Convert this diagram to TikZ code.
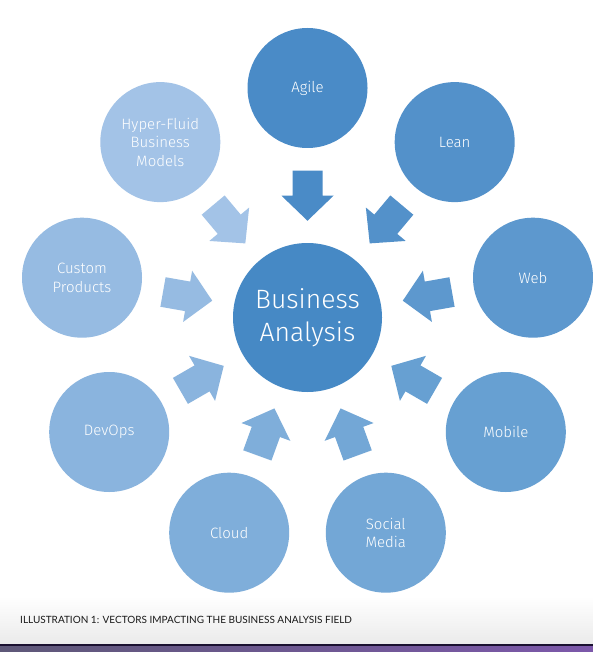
\documentclass[tikz,border=0pt]{standalone}
\usepackage{fontspec}
\newfontfamily\lightfont{Fira Sans Light}
\newfontfamily\capfont{Lato}
\usetikzlibrary{calc}
\definecolor{cHub}{HTML}{4689C5}
\definecolor{cAgile}{HTML}{4A8BC7}
\definecolor{cLean}{HTML}{5391CA}
\definecolor{cWeb}{HTML}{5D98CE}
\definecolor{cMobile}{HTML}{67A0D2}
\definecolor{cSocial}{HTML}{73A7D6}
\definecolor{cCloud}{HTML}{7FAEDA}
\definecolor{cDevops}{HTML}{8AB4DE}
\definecolor{cCustom}{HTML}{96BBE2}
\definecolor{cHyper}{HTML}{A3C3E7}
\definecolor{barDark}{HTML}{1A1030}
\definecolor{barLeft}{HTML}{5E5878}
\definecolor{barRight}{HTML}{7C58AA}
\tikzset{
  bubble/.style={circle, inner sep=0pt, minimum size=120pt, text=white, align=center,
    font=\lightfont\fontsize{15}{18.5}\selectfont},
  hub/.style={bubble, minimum size=149pt, font=\lightfont\fontsize{26.5}{33}\selectfont}
}
\newcommand\blockarrow[3]{%
  \fill[#3] let \p1=($(#2)-(#1)$), \n1={atan2(\y1,\x1)} in
    ($(#1)+(\n1:146.75pt)+(\n1+90:15pt)$) --
    ($(#1)+(\n1:121.75pt)+(\n1+90:15pt)$) --
    ($(#1)+(\n1:121.75pt)+(\n1+90:26pt)$) --
    ($(#1)+(\n1:96.75pt)$) --
    ($(#1)+(\n1:121.75pt)+(\n1-90:26pt)$) --
    ($(#1)+(\n1:121.75pt)+(\n1-90:15pt)$) --
    ($(#1)+(\n1:146.75pt)+(\n1-90:15pt)$) -- cycle;}
\begin{document}
\begin{tikzpicture}[x=1pt, y=-1pt]
\useasboundingbox (0,0) rectangle (593,652);
\fill[white] (0,0) rectangle (593,652);
\shade[top color=white, bottom color=black!8] (0,596) rectangle (593,643.5);
\fill[barDark] (0,643.5) rectangle (593,646.5);
\shade[left color=barLeft, right color=barRight] (0,646.5) rectangle (593,652);

\node[hub, fill=cHub] (hub) at (307.5,317.5) {Business\\Analysis};
\node[bubble, fill=cAgile] (agile) at (307.5,88) {Agile};
\node[bubble, fill=cLean] (lean) at (454.7,142.1) {Lean};
\node[bubble, fill=cWeb] (web) at (533,277.7) {Web};
\node[bubble, fill=cMobile] (mobile) at (505.8,432) {Mobile};
\node[bubble, fill=cSocial] (social) at (385.8,532.7) {Social\\Media};
\node[bubble, fill=cCloud] (cloud) at (229.2,532.7) {Cloud};
\node[bubble, fill=cDevops] (devops) at (109.2,432) {DevOps};
\node[bubble, fill=cCustom] (custom) at (82,277.7) {Custom\\Products};
\node[bubble, fill=cHyper] (hyper) at (160.3,142.1) {Hyper-Fluid\\Business\\Models};

\blockarrow{hub}{agile}{cAgile}
\blockarrow{hub}{lean}{cLean}
\blockarrow{hub}{web}{cWeb}
\blockarrow{hub}{mobile}{cMobile}
\blockarrow{hub}{social}{cSocial}
\blockarrow{hub}{cloud}{cCloud}
\blockarrow{hub}{devops}{cDevops}
\blockarrow{hub}{custom}{cCustom}
\blockarrow{hub}{hyper}{cHyper}

\node[anchor=base west, inner sep=0pt, text=black!90, font=\capfont\fontsize{10}{12}\selectfont] (caption) at (20,623) {ILLUSTRATION 1: VECTORS IMPACTING THE BUSINESS ANALYSIS FIELD};
\end{tikzpicture}
\end{document}
